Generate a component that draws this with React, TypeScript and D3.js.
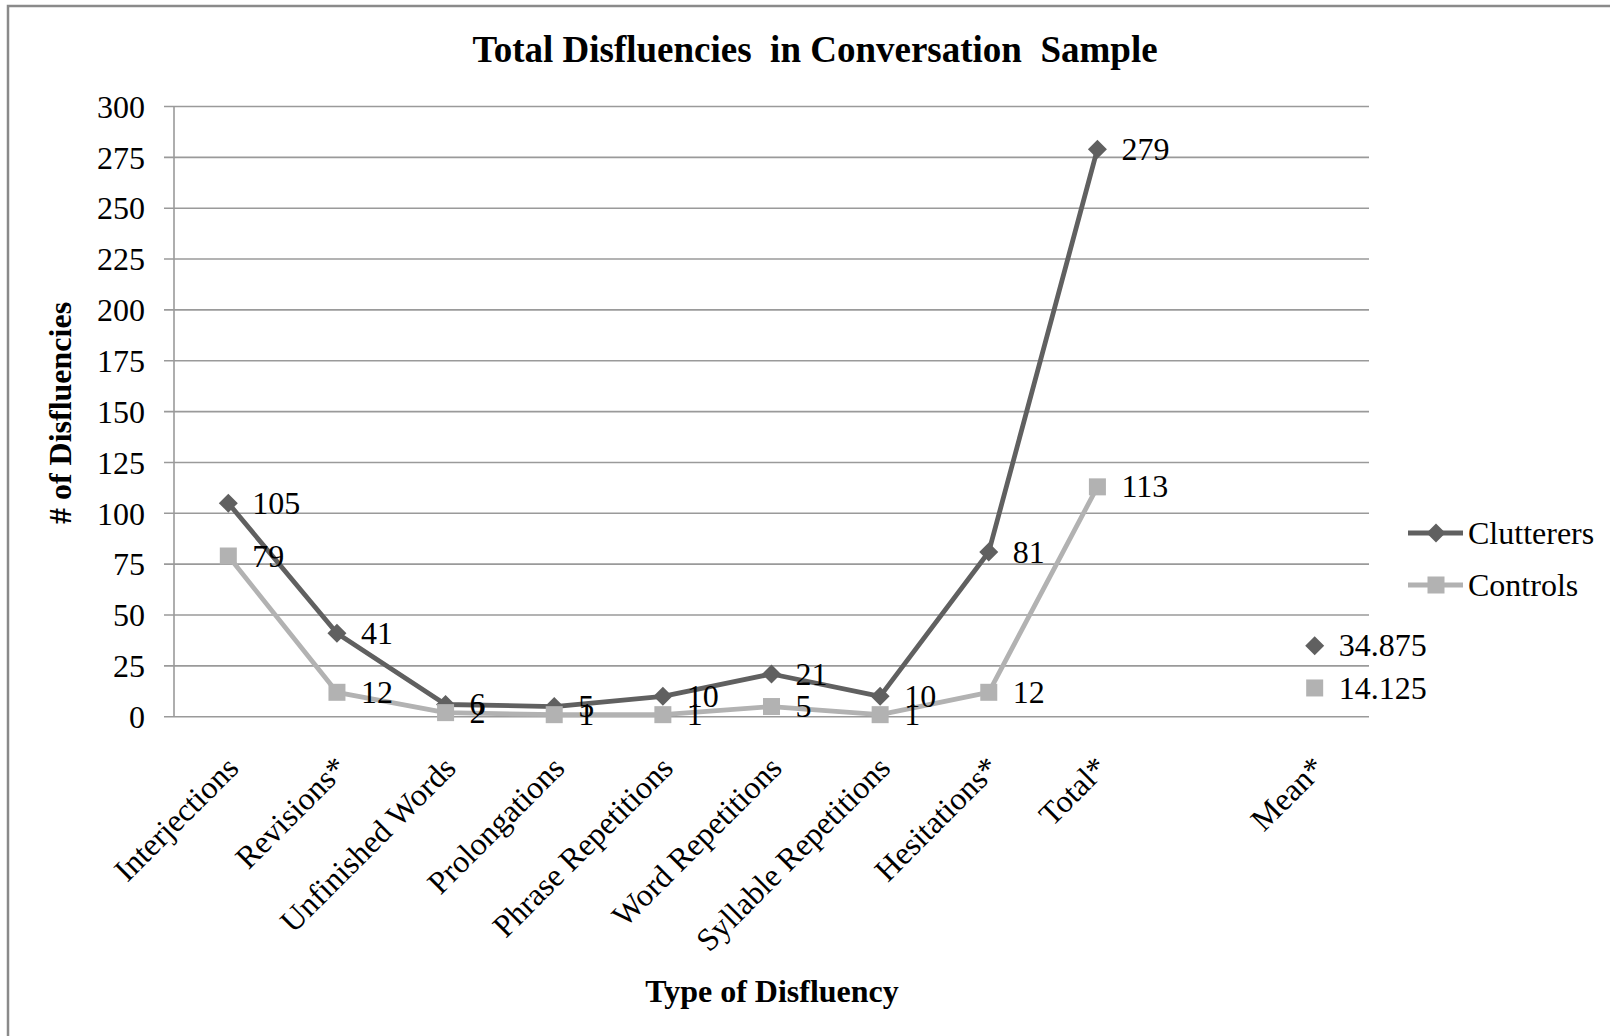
import React from "react";
import * as d3 from "d3";

// Disfluency categories along the x axis (the blank slot separates the mean)
const categories = [
  "Interjections",
  "Revisions*",
  "Unfinished Words",
  "Prolongations",
  "Phrase Repetitions",
  "Word Repetitions",
  "Syllable Repetitions",
  "Hesitations*",
  "Total*",
  "",
  "Mean*",
];

const clutterers: (number | null)[] = [105, 41, 6, 5, 10, 21, 10, 81, 279, null, 34.875];
const controls: (number | null)[] = [79, 12, 2, 1, 1, 5, 1, 12, 113, null, 14.125];

const yTicks = [0, 25, 50, 75, 100, 125, 150, 175, 200, 225, 250, 275, 300];

const seriesList = [
  { name: "Clutterers", values: clutterers, color: "#606060", marker: "diamond" },
  { name: "Controls", values: controls, color: "#b2b2b2", marker: "square" },
];

const W = 1610;
const H = 1036;
const FONT = "'Liberation Serif', 'Times New Roman', serif";

export default function App() {
  const x = d3.scaleBand<string>().domain(categories.map((c, i) => String(i))).range([174, 1369]).padding(0);
  const cx = (i: number) => (x(String(i)) as number) + x.bandwidth() / 2;
  const y = d3.scaleLinear().domain([0, 300]).range([716.7, 106.5]);

  const line = d3
    .line<number | null>()
    .defined((d, i) => d !== null && i < 9)
    .x((_, i) => cx(i))
    .y((d) => y(d as number));

  const diamond = (px: number, py: number, r: number) =>
    `M${px},${py - r}L${px + r},${py}L${px},${py + r}L${px - r},${py}Z`;

  const marker = (kind: string, px: number, py: number, color: string, key: string) =>
    kind === "diamond" ? (
      <path key={key} d={diamond(px, py, 9.5)} fill={color} />
    ) : (
      <rect key={key} x={px - 8.5} y={py - 8.5} width={17} height={17} fill={color} />
    );

  const legendY = [533, 585];

  return (
    <svg
      width={W}
      height={H}
      style={{ position: "absolute", left: 0, top: 0, display: "block", background: "#fff" }}
      fontFamily={FONT}
    >
      {/* chart frame */}
      <rect x={8} y={6} width={W} height={H} fill="#fff" stroke="#8a8a8a" strokeWidth={2.5} />

      {/* title */}
      <text x={815} y={62} textAnchor="middle" fontSize={37} fontWeight="bold" style={{ whiteSpace: "pre" }}>
        {"Total Disfluencies  in Conversation  Sample"}
      </text>

      {/* gridlines and y ticks */}
      {yTicks.map((t) => (
        <g key={t}>
          <line x1={164} x2={1369} y1={y(t)} y2={y(t)} stroke="#9a9a9a" strokeWidth={1.6} />
          <text x={145} y={y(t)} dy="0.35em" textAnchor="end" fontSize={32}>
            {t}
          </text>
        </g>
      ))}
      <line x1={174} x2={174} y1={y(300)} y2={y(0)} stroke="#9a9a9a" strokeWidth={1.6} />

      {/* y axis title */}
      <text
        transform={`translate(71,413) rotate(-90)`}
        textAnchor="middle"
        fontSize={32}
        fontWeight="bold"
      >
        # of Disfluencies
      </text>

      {/* category labels */}
      {categories.map((c, i) => (
        <text
          key={i}
          transform={`translate(${cx(i) + 12},770) rotate(-45)`}
          textAnchor="end"
          fontSize={32}
        >
          {c}
        </text>
      ))}

      {/* x axis title */}
      <text x={772} y={1002} textAnchor="middle" fontSize={32} fontWeight="bold">
        Type of Disfluency
      </text>

      {/* series lines */}
      {seriesList.map((s) => (
        <path
          key={s.name + "-line"}
          d={line(s.values) || ""}
          fill="none"
          stroke={s.color}
          strokeWidth={4.8}
          strokeLinejoin="round"
        />
      ))}

      {/* markers */}
      {seriesList.map((s) =>
        s.values.map((v, i) =>
          v === null ? null : marker(s.marker, cx(i), y(v), s.color, `${s.name}-m-${i}`)
        )
      )}

      {/* data labels */}
      {seriesList.map((s) =>
        s.values.map((v, i) =>
          v === null ? null : (
            <text key={`${s.name}-l-${i}`} x={cx(i) + 24} y={y(v)} dy="0.33em" fontSize={32}>
              {String(v)}
            </text>
          )
        )
      )}

      {/* legend */}
      {seriesList.map((s, k) => (
        <g key={s.name + "-legend"}>
          <line x1={1408} x2={1463} y1={legendY[k]} y2={legendY[k]} stroke={s.color} strokeWidth={4.8} />
          {marker(s.marker, 1436, legendY[k], s.color, s.name + "-lm")}
          <text x={1468} y={legendY[k]} dy="0.33em" fontSize={32}>
            {s.name}
          </text>
        </g>
      ))}
    </svg>
  );
}
